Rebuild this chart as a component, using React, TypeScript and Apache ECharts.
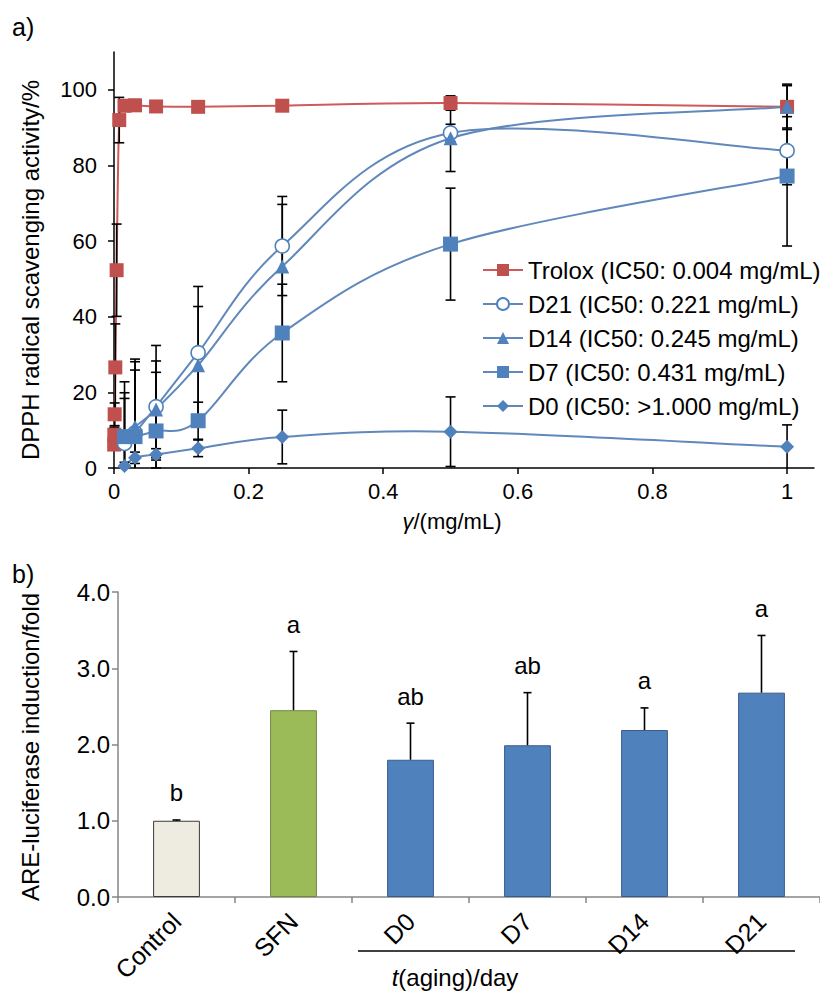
import React, { useEffect, useRef } from 'react';
import * as echarts from 'echarts';

const FONT = '"Liberation Sans", Arial, Helvetica, sans-serif';

// ---------- Panel a: DPPH radical scavenging ----------
const xTicksA = [0, 0.2, 0.4, 0.6, 0.8, 1];
const yTicksA = [0, 20, 40, 60, 80, 100];

const troloxX = [0.000244, 0.000488, 0.000977, 0.00195, 0.0039, 0.0078, 0.0156, 0.03125, 0.0625, 0.125, 0.25, 0.5, 1];
const troloxY = [6.2, 8.8, 14.2, 26.6, 52.3, 92.0, 95.8, 95.9, 95.6, 95.5, 95.8, 96.5, 95.5];
const troloxErr = [1.5, 2, 3, 11.5, 12.2, 6, 1.5, 1.5, 1, 1, 1, 1.9, 5.6];

const dX = [0.015625, 0.03125, 0.0625, 0.125, 0.25, 0.5, 1];
const d21Y = [6.5, 9.3, 16.2, 30.5, 58.7, 88.6, 83.9];
const d21Err = [16.3, 19.5, 16.2, 17.5, 13.1, 2.3, 9.0];
const d14Y = [8.5, 10.9, 15.5, 27.2, 53.3, 87.2, 95.5];
const d14Err = [11.4, 17.2, 12.8, 15.5, 16.4, 8.8, 6.0];
const d7Y = [8.3, 8.3, 9.8, 12.5, 35.7, 59.2, 77.2];
const d7Err = [10.1, 17.6, 15.5, 4.9, 12.9, 14.8, 18.5];
const d0Y = [0.5, 2.7, 3.6, 5.2, 8.2, 9.6, 5.6];
const d0Err = [1.0, 1.5, 1.5, 2.2, 7.1, 9.2, 5.8];

const legendNames = [
  'Trolox (IC50: 0.004 mg/mL)',
  'D21 (IC50: 0.221 mg/mL)',
  'D14 (IC50: 0.245 mg/mL)',
  'D7 (IC50: 0.431 mg/mL)',
  'D0 (IC50: >1.000 mg/mL)',
];

// ---------- Panel b: ARE-luciferase induction ----------
const categoriesB = ['Control', 'SFN', 'D0', 'D7', 'D14', 'D21'];
const foldValues = [1.0, 2.45, 1.8, 1.99, 2.19, 2.68];
const foldErr = [0.01, 0.77, 0.48, 0.69, 0.29, 0.75];
const letters = ['b', 'a', 'ab', 'ab', 'a', 'a'];
const yTicksB = [0, 1, 2, 3, 4];

const RED = '#c0504d';
const BLUE = '#4f81bd';
const BLUE_LINE = '#6088bb';

function smoothSeries(xs: number[], ys: number[], color: string) {
  return {
    type: 'custom',
    xAxisIndex: 0,
    yAxisIndex: 0,
    z: 1,
    silent: true,
    encode: { x: 0, y: 1 },
    data: xs.slice(0, -1).map((x, k) => [x, ys[k]]),
    renderItem: (params: any, api: any) => {
      const i = params.dataIndex;
      const P = (k: number) => api.coord([xs[k], ys[k]]);
      const p1 = P(i);
      const p2 = P(i + 1);
      const p0 = i > 0 ? P(i - 1) : p1;
      const p3 = i + 2 < xs.length ? P(i + 2) : p2;
      const t = 1 / 6;
      return {
        type: 'bezierCurve',
        shape: {
          x1: p1[0], y1: p1[1], x2: p2[0], y2: p2[1],
          cpx1: p1[0] + (p2[0] - p0[0]) * t,
          cpy1: p1[1] + (p2[1] - p0[1]) * t,
          cpx2: p2[0] - (p3[0] - p1[0]) * t,
          cpy2: p2[1] - (p3[1] - p1[1]) * t,
        },
        style: { stroke: color, lineWidth: 2, fill: null },
      };
    },
  };
}

function errorSeriesA(xs: number[], ys: number[], es: number[]) {
  return {
    type: 'custom',
    xAxisIndex: 0,
    yAxisIndex: 0,
    z: 2,
    silent: true,
    encode: { x: 0, y: 1 },
    data: xs.map((x, k) => [x, ys[k], es[k]]),
    renderItem: (params: any, api: any) => {
      const x = api.value(0);
      const y = api.value(1);
      const e = api.value(2);
      const lowVal = Math.max(0, y - e);
      const hi = api.coord([x, y + e]);
      const lo = api.coord([x, lowVal]);
      const cw = 5;
      const st = { stroke: '#000', lineWidth: 1.6 };
      const children: any[] = [
        { type: 'line', shape: { x1: hi[0], y1: hi[1], x2: lo[0], y2: lo[1] }, style: st },
        { type: 'line', shape: { x1: hi[0] - cw, y1: hi[1], x2: hi[0] + cw, y2: hi[1] }, style: st },
      ];
      if (y - e >= 0) {
        children.push({ type: 'line', shape: { x1: lo[0] - cw, y1: lo[1], x2: lo[0] + cw, y2: lo[1] }, style: st });
      }
      return { type: 'group', children };
    },
  };
}

function markerSeries(name: string, xs: number[], ys: number[], symbol: string, size: number, itemStyle: any) {
  return {
    type: 'line',
    name,
    xAxisIndex: 0,
    yAxisIndex: 0,
    z: 3,
    data: xs.map((x, k) => [x, ys[k]]),
    symbol,
    symbolSize: size,
    showSymbol: true,
    lineStyle: { opacity: 0, width: 0 },
    itemStyle,
    emphasis: { disabled: true },
  };
}

const barColors = [
  { color: '#eeece1', borderColor: '#3a3a3a' },
  { color: '#9bbb59', borderColor: '#71893f' },
  { color: BLUE, borderColor: '#385d8a' },
  { color: BLUE, borderColor: '#385d8a' },
  { color: BLUE, borderColor: '#385d8a' },
  { color: BLUE, borderColor: '#385d8a' },
];

export default function App() {
  const ref = useRef<HTMLDivElement>(null);

  useEffect(() => {
    if (!ref.current) return;
    const chart = echarts.init(ref.current, undefined, { renderer: 'svg' });

    const series: any[] = [
      smoothSeries(troloxX, troloxY, '#d05a5a'),
      smoothSeries(dX, d21Y, BLUE_LINE),
      smoothSeries(dX, d14Y, BLUE_LINE),
      smoothSeries(dX, d7Y, BLUE_LINE),
      smoothSeries(dX, d0Y, BLUE_LINE),
      errorSeriesA(troloxX, troloxY, troloxErr),
      errorSeriesA(dX, d21Y, d21Err),
      errorSeriesA(dX, d14Y, d14Err),
      errorSeriesA(dX, d7Y, d7Err),
      errorSeriesA(dX, d0Y, d0Err),
      markerSeries(legendNames[0], troloxX, troloxY, 'rect', 14, { color: RED }),
      markerSeries(legendNames[1], dX, d21Y, 'circle', 14, { color: '#ffffff', borderColor: BLUE, borderWidth: 1.6 }),
      markerSeries(legendNames[2], dX, d14Y, 'triangle', 14, { color: BLUE }),
      markerSeries(legendNames[3], dX, d7Y, 'rect', 15, { color: BLUE }),
      markerSeries(legendNames[4], dX, d0Y, 'diamond', 14, { color: BLUE }),
      {
        type: 'bar',
        xAxisIndex: 1,
        yAxisIndex: 1,
        barWidth: '40%',
        z: 2,
        data: foldValues.map((v, i) => ({
          value: v,
          itemStyle: { color: barColors[i].color, borderColor: barColors[i].borderColor, borderWidth: 1 },
        })),
        emphasis: { disabled: true },
      },
      {
        type: 'custom',
        xAxisIndex: 1,
        yAxisIndex: 1,
        z: 3,
        silent: true,
        encode: { x: 0, y: 1 },
        data: foldValues.map((v, i) => [i, v, foldErr[i]]),
        renderItem: (params: any, api: any) => {
          const i = params.dataIndex;
          const x = api.value(0);
          const v = api.value(1);
          const e = api.value(2);
          const base = api.coord([x, v]);
          const top = api.coord([x, v + e]);
          const cw = 4;
          const st = { stroke: '#000', lineWidth: 1.6 };
          return {
            type: 'group',
            children: [
              { type: 'line', shape: { x1: base[0], y1: base[1], x2: top[0], y2: top[1] }, style: st },
              { type: 'line', shape: { x1: top[0] - cw, y1: top[1], x2: top[0] + cw, y2: top[1] }, style: st },
              {
                type: 'text',
                x: top[0],
                y: top[1] - 27,
                style: {
                  text: letters[i],
                  fill: '#000',
                  fontSize: 24,
                  fontFamily: FONT,
                  align: 'center',
                  verticalAlign: 'middle',
                  textAlign: 'center',
                  textVerticalAlign: 'middle',
                },
              },
            ],
          };
        },
      },
    ];

    const axisLabelBase = { color: '#000', fontSize: 22, fontFamily: FONT };

    chart.setOption({
      animation: false,
      backgroundColor: '#ffffff',
      textStyle: { fontFamily: FONT },
      grid: [
        { left: 114, top: 52, width: 700, height: 416, outerBoundsMode: 'none', containLabel: false },
        { left: 118, top: 592, width: 702, height: 305, outerBoundsMode: 'none', containLabel: false },
      ],
      legend: {
        orient: 'vertical',
        left: 477,
        top: 253,
        itemWidth: 40,
        itemHeight: 15,
        itemGap: 10,
        selectedMode: false,
        textStyle: { color: '#000', fontSize: 24, fontFamily: FONT },
        data: legendNames.map((n, i) => ({
          name: n,
          lineStyle: { color: i === 0 ? '#d05a5a' : BLUE_LINE, width: 2, opacity: 1 },
        })),
      },
      xAxis: [
        {
          type: 'value',
          gridIndex: 0,
          min: 0,
          max: 1.04,
          interval: 0.2,
          axisLine: { show: true, onZero: false, lineStyle: { color: '#000', width: 1.5 } },
          axisTick: { show: true, length: 6, inside: false, customValues: xTicksA, lineStyle: { color: '#000', width: 1.5 } },
          axisLabel: { ...axisLabelBase, margin: 12, customValues: xTicksA, formatter: (v: number) => String(v) },
          splitLine: { show: false },
        },
        {
          type: 'category',
          gridIndex: 1,
          data: categoriesB,
          axisLine: { show: true, lineStyle: { color: '#868686', width: 1.5 } },
          axisTick: { show: true, length: 6, lineStyle: { color: '#868686', width: 1.5 } },
          axisLabel: { ...axisLabelBase, fontSize: 25, rotate: 45, margin: 20 },
          splitLine: { show: false },
        },
      ],
      yAxis: [
        {
          type: 'value',
          gridIndex: 0,
          min: 0,
          max: 110,
          interval: 10,
          axisLine: { show: true, onZero: false, lineStyle: { color: '#000', width: 1.5 } },
          axisTick: { show: true, length: 6, customValues: yTicksA, lineStyle: { color: '#000', width: 1.5 } },
          axisLabel: { ...axisLabelBase, margin: 17, customValues: yTicksA },
          splitLine: { show: false },
        },
        {
          type: 'value',
          gridIndex: 1,
          min: 0,
          max: 4,
          interval: 1,
          axisLine: { show: true, lineStyle: { color: '#868686', width: 1.5 } },
          axisTick: { show: true, length: 6, customValues: yTicksB, lineStyle: { color: '#868686', width: 1.5 } },
          axisLabel: { ...axisLabelBase, fontSize: 24, margin: 8, customValues: yTicksB, formatter: (v: number) => v.toFixed(1) },
          splitLine: { show: false },
        },
      ],
      graphic: [
        {
          type: 'text', left: 12, top: 14,
          style: { text: 'a)', fontSize: 25, fontFamily: FONT, fill: '#000' },
        },
        {
          type: 'text', left: 12, top: 561,
          style: { text: 'b)', fontSize: 25, fontFamily: FONT, fill: '#000' },
        },
        {
          type: 'text', x: 30, y: 270, rotation: Math.PI / 2,
          style: {
            text: 'DPPH radical scavenging activity/%', fontSize: 24, fontFamily: FONT, fill: '#000',
            align: 'center', verticalAlign: 'middle', textAlign: 'center', textVerticalAlign: 'middle',
          },
        },
        {
          type: 'text', x: 452, y: 521,
          style: {
            text: '{i|γ}/(mg/mL)', fontSize: 22, fontFamily: FONT, fill: '#000',
            align: 'center', verticalAlign: 'middle', textAlign: 'center', textVerticalAlign: 'middle',
            rich: { i: { fontStyle: 'italic', fontSize: 22, fontFamily: FONT, fill: '#000' } },
          },
        },
        {
          type: 'text', x: 30, y: 747, rotation: Math.PI / 2,
          style: {
            text: 'ARE-luciferase induction/fold', fontSize: 24, fontFamily: FONT, fill: '#000',
            align: 'center', verticalAlign: 'middle', textAlign: 'center', textVerticalAlign: 'middle',
          },
        },
        {
          type: 'line',
          shape: { x1: 358, y1: 951, x2: 795, y2: 951 },
          style: { stroke: '#000', lineWidth: 1.5 },
        },
        {
          type: 'text', x: 455, y: 977,
          style: {
            text: '{i|t}(aging)/day', fontSize: 24, fontFamily: FONT, fill: '#000',
            align: 'center', verticalAlign: 'middle', textAlign: 'center', textVerticalAlign: 'middle',
            rich: { i: { fontStyle: 'italic', fontSize: 24, fontFamily: FONT, fill: '#000' } },
          },
        },
      ],
      series,
    });

    return () => chart.dispose();
  }, []);

  return (
    <div
      ref={ref}
      style={{ position: 'absolute', left: 0, top: 0, width: 820, height: 997, background: '#fff' }}
    />
  );
}
